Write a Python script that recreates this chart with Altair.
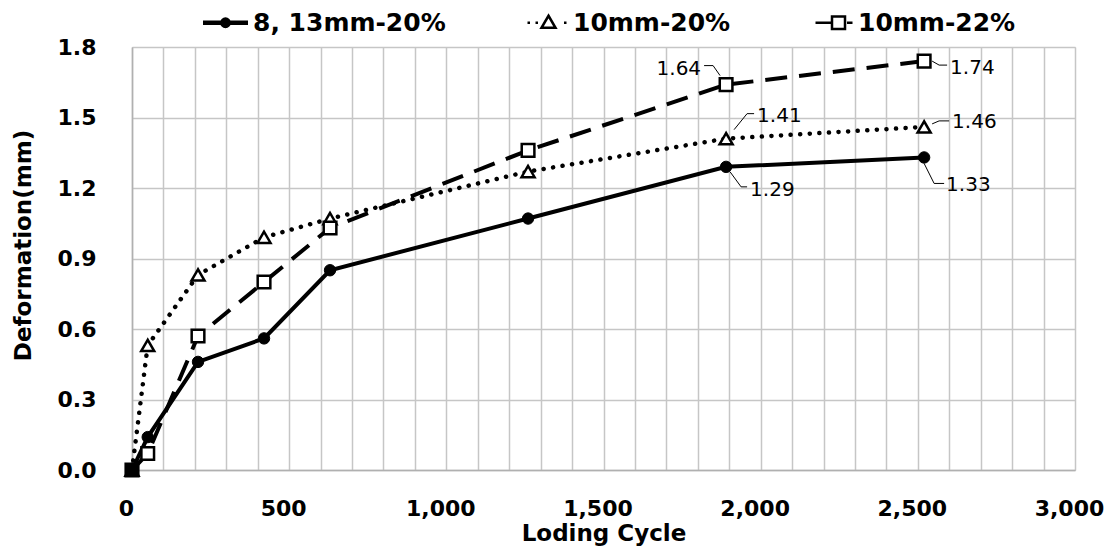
import altair as alt
import pandas as pd

# ---------------- data ----------------
series_names = ["8, 13mm-20%", "10mm-20%", "10mm-22%"]
cycles = [0, 50, 210, 420, 630, 1260, 1890, 2520]
def_8_13mm_20 = [0.00, 0.14, 0.46, 0.56, 0.85, 1.07, 1.29, 1.33]
def_10mm_20 = [0.00, 0.53, 0.83, 0.99, 1.07, 1.27, 1.41, 1.46]
def_10mm_22 = [0.00, 0.07, 0.57, 0.80, 1.03, 1.36, 1.64, 1.74]
x_ticks = list(range(0, 3001, 100))
y_ticks = [0.0, 0.3, 0.6, 0.9, 1.2, 1.5, 1.8]

rows = []
for name, vals in zip(series_names, [def_8_13mm_20, def_10mm_20, def_10mm_22]):
    for c, v in zip(cycles, vals):
        rows.append({"series": name, "cycle": c, "value": v})
df = pd.DataFrame(rows)

FONT = "DejaVu Sans"
GRID = "#c6c6c6"

X = alt.X(
    "cycle:Q",
    scale=alt.Scale(domain=[0, 3000], nice=False),
    axis=alt.Axis(
        values=x_ticks,
        labelExpr="datum.value % 500 === 0 ? format(datum.value, ',') : ''",
        labelOverlap=False,
        labelFlush=False,
        labelOffset=-6,
        labelFont=FONT, labelFontSize=22, labelFontWeight="bold", labelColor="black",
        labelPadding=28,
        ticks=False, tickSize=0,
        domainColor="#b0b0b0", domainWidth=1.5,
        grid=True, gridColor=GRID, gridWidth=1.5,
        title="Loding Cycle",
        titleFont=FONT, titleFontSize=23, titleFontWeight="bold", titleColor="black",
        titleBaseline="middle", titleY=63,
    ),
)
Y = alt.Y(
    "value:Q",
    scale=alt.Scale(domain=[0, 1.8], nice=False),
    axis=alt.Axis(
        values=y_ticks, format=".1f",
        labelFont=FONT, labelFontSize=22, labelFontWeight="bold", labelColor="black",
        labelPadding=36,
        ticks=False, tickSize=0,
        domainColor="#b0b0b0", domainWidth=1.5,
        grid=True, gridColor=GRID, gridWidth=1.5,
        title="Deformation(mm)",
        titleFont=FONT, titleFontSize=23, titleFontWeight="bold", titleColor="black",
        titleBaseline="middle", titleAlign="center", titleX=-109, titleY=198,
    ),
)

base = alt.Chart(df).encode(x=X, y=Y)


def sel(s, c=None):
    expr = f"datum.series == '{s}'"
    if c is not None:
        expr += f" && datum.cycle == {c}"
    return expr


# ---------------- lines ----------------
line_solid = base.transform_filter(sel(series_names[0])).mark_line(
    color="black", strokeWidth=4)
line_dot = base.transform_filter(sel(series_names[1])).mark_line(
    color="black", strokeWidth=4.5, strokeDash=[0.1, 9.5], strokeCap="round")
line_dash = base.transform_filter(sel(series_names[2])).mark_line(
    color="black", strokeWidth=4, strokeDash=[22, 12])

# ---------------- markers ----------------
pt_circle = base.transform_filter(sel(series_names[0])).mark_point(
    shape="circle", filled=True, fill="black", stroke="black", strokeWidth=1, size=130, opacity=1)
pt_tri = base.transform_filter(sel(series_names[1])).mark_point(
    shape="triangle-up", filled=True, fill="white", stroke="black", strokeWidth=2.5, size=170, opacity=1)
pt_sq = base.transform_filter(sel(series_names[2])).mark_point(
    shape="square", filled=True, stroke="black", strokeWidth=2.5, size=160, opacity=1
).encode(fill=alt.condition("datum.cycle == 0", alt.value("black"), alt.value("white")))

# ---------------- value labels with leader lines ----------------
# (series index, cycle, text dx, text dy, align, leader segments in px offsets)
label_specs = [
    (0, 1890, 24, 23, "left", [((4, 5), (15, 20)), ((15, 20), (21, 20))]),
    (0, 2520, 22, 28, "left", [((0, 6), (10, 26)), ((10, 26), (20, 26))]),
    (1, 1890, 31, -23, "left", [((8, -9), (21, -25)), ((21, -25), (28, -25))]),
    (1, 2520, 28, -5, "left", [((8, -3), (15, -6)), ((15, -6), (25, -6))]),
    (2, 1890, -25, -16, "right", [((-6, -9), (-13, -19)), ((-13, -19), (-22, -19))]),
    (2, 2520, 26, 7, "left", [((8, 0), (15, 4)), ((15, 4), (23, 4))]),
]

label_layers = []
for si, c, dx, dy, align, segs in label_specs:
    flt = sel(series_names[si], c)
    label_layers.append(
        base.transform_filter(flt).mark_text(
            dx=dx, dy=dy, align=align, baseline="middle",
            font=FONT, fontSize=20, color="black",
        ).encode(text=alt.Text("value:Q", format=".2f"))
    )
    for (x1, y1), (x2, y2) in segs:
        label_layers.append(
            base.transform_filter(flt).mark_rule(
                color="black", strokeWidth=1,
                xOffset=x1, yOffset=y1, x2Offset=x2, y2Offset=y2,
            ).encode(x2=alt.X2("cycle:Q"), y2=alt.Y2("value:Q"))
        )

# ---------------- legend (symbols drawn as line + marker paths) ----------------
legend_paths = [
    # solid line with filled circle
    "M-2.3,0"
    "M-2.25,-0.1H2.25M-2.25,0.1H2.25"
    "M0.42,0A0.42,0.42,0,1,1,-0.42,0A0.42,0.42,0,1,1,0.42,0"
    "M0.2,0A0.2,0.2,0,1,1,-0.2,0A0.2,0.2,0,1,1,0.2,0"
    "M0.05,0A0.05,0.05,0,1,1,-0.05,0A0.05,0.05,0,1,1,0.05,0",
    # dotted line with open triangle
    "M-2.3,0"
    "M-1.8,0h0.25M-1.0,0h0.25M1.85,0h0.25"
    "M0.3,-0.7L1.0,0.5L-0.4,0.5Z",
    # dashed line with open square
    "M-2.3,0"
    "M-1.5,0H0.15M1.65,0H2.2"
    "M0.15,-0.62H1.45V0.62H0.15Z",
]

legend_layer = base.mark_point(
    filled=False, color="black", strokeWidth=2.5, opacity=0
).encode(
    shape=alt.Shape(
        "series:N",
        scale=alt.Scale(domain=series_names, range=legend_paths),
        legend=alt.Legend(
            title=None, orient="none", direction="horizontal",
            legendX=81, legendY=-37,
            symbolSize=400, symbolStrokeWidth=2.5, symbolOpacity=1,
            symbolFillColor="white", symbolStrokeColor="black",
            labelFont=FONT, labelFontSize=25, labelFontWeight="bold", labelColor="black",
            labelOffset=15, columnPadding=71, padding=0,
            labelLimit=400,
        ),
    ),
)

chart = alt.layer(
    line_solid, line_dot, line_dash,
    pt_circle, pt_tri, pt_sq,
    *label_layers,
    legend_layer,
).properties(
    width=943, height=423,
    autosize=alt.AutoSizeParams(type="none"),
    padding={"left": 124, "top": 39, "right": 29, "bottom": 76},
).configure_view(stroke="transparent").configure(font=FONT)

chart.save("out.html", embed_options={"renderer": "svg", "actions": False})
